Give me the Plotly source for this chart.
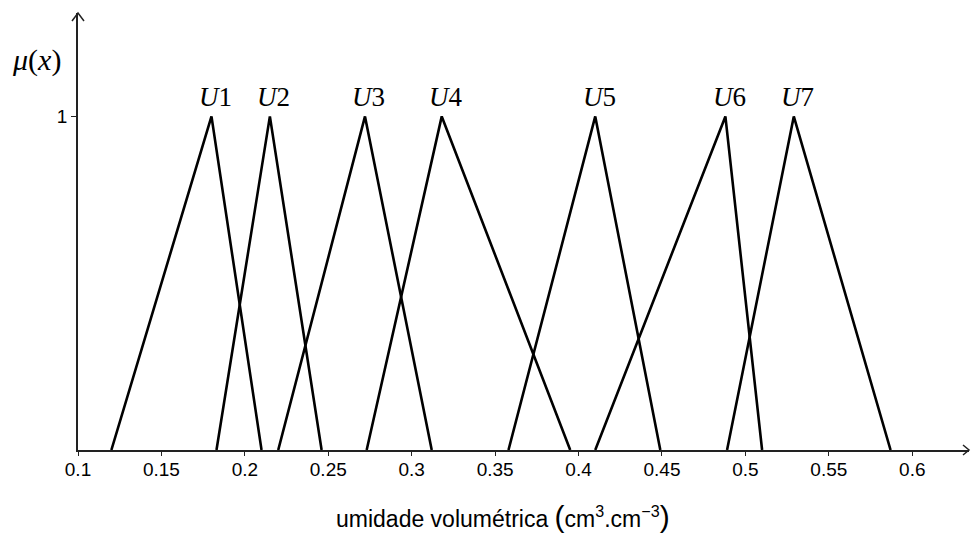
import plotly.graph_objects as go

# Triangular membership functions (left foot, peak, right foot)
labels = ["U1", "U2", "U3", "U4", "U5", "U6", "U7"]
left = [0.120, 0.183, 0.220, 0.273, 0.358, 0.410, 0.489]
peak = [0.180, 0.215, 0.272, 0.318, 0.410, 0.488, 0.529]
right = [0.210, 0.246, 0.312, 0.395, 0.449, 0.510, 0.587]
x_ticks = [0.1, 0.15, 0.2, 0.25, 0.3, 0.35, 0.4, 0.45, 0.5, 0.55, 0.6]
x_tick_text = ["0.1", "0.15", "0.2", "0.25", "0.3", "0.35", "0.4", "0.45", "0.5", "0.55", "0.6"]
y_ticks = [1]

X_RANGE = [0.1, 0.634]
Y_RANGE = [0, 1.31]

fig = go.Figure()
for lab, a, b, c in zip(labels, left, peak, right):
    fig.add_trace(go.Scatter(
        x=[a, b, c], y=[0, 1, 0], mode="lines", name=lab,
        line=dict(color="black", width=2.6), hoverinfo="x+y+name",
    ))
    fig.add_annotation(
        x=b, y=1, text="<i>U</i>" + lab[1:], showarrow=False,
        xanchor="center", yanchor="bottom", xshift=4, yshift=2,
        font=dict(family="Liberation Serif", size=27, color="black"),
    )

# mu(x) label
fig.add_annotation(
    xref="paper", yref="paper", x=(37 - 78) / 890, y=(450 - 60) / 437,
    text="<i>μ</i>(<i>x</i>)", showarrow=False, xanchor="center", yanchor="middle",
    font=dict(family="Liberation Serif", size=30, color="black"),
)

# x-axis title
fig.add_annotation(
    xref="paper", yref="paper", x=(503 - 78) / 890, y=(450 - 516) / 437,
    text="umidade volumétrica <span style='font-size:30px'>(</span>cm<sup>3</sup>.cm<sup>−3</sup><span style='font-size:30px'>)</span>",
    showarrow=False, xanchor="center", yanchor="middle",
    font=dict(family="Liberation Sans", size=23, color="black"),
)

# Arrow heads (chevrons) on the axes, sized in pixels
fig.add_shape(type="path", xref="paper", yref="paper", xsizemode="pixel", ysizemode="pixel",
              xanchor=0, yanchor=1,
              path="M -6,-8 L 0,0 L 6,-8", line=dict(color="#222", width=1.5))
fig.add_shape(type="path", xref="paper", yref="paper", xsizemode="pixel", ysizemode="pixel",
              xanchor=1, yanchor=0,
              path="M -6,5 L 0,0 L -6,-5", line=dict(color="#222", width=1.5))

fig.update_layout(
    width=971, height=533,
    margin=dict(l=78, r=2, t=13, b=83),
    paper_bgcolor="white", plot_bgcolor="white",
    showlegend=False,
    xaxis=dict(
        range=X_RANGE, tickmode="array", tickvals=x_ticks, ticktext=x_tick_text,
        showline=True, linecolor="#222", linewidth=1.5, showgrid=False, zeroline=False,
        ticks="outside", ticklen=4, tickwidth=1.2, tickcolor="#222", automargin=False,
        ticklabelstandoff=-3,
        tickfont=dict(family="Liberation Sans", size=19, color="black"),
    ),
    yaxis=dict(
        range=Y_RANGE, tickmode="array", tickvals=y_ticks, ticktext=["1"],
        showline=True, linecolor="#222", linewidth=1.5, showgrid=False, zeroline=False,
        ticks="outside", ticklen=5, tickwidth=1.2, tickcolor="#222", automargin=False,
        tickfont=dict(family="Liberation Sans", size=19, color="black"),
    ),
)

fig.write_html("out.html", config={"displayModeBar": False},
               post_script="document.body.style.margin='0';document.body.style.overflow='hidden';")
